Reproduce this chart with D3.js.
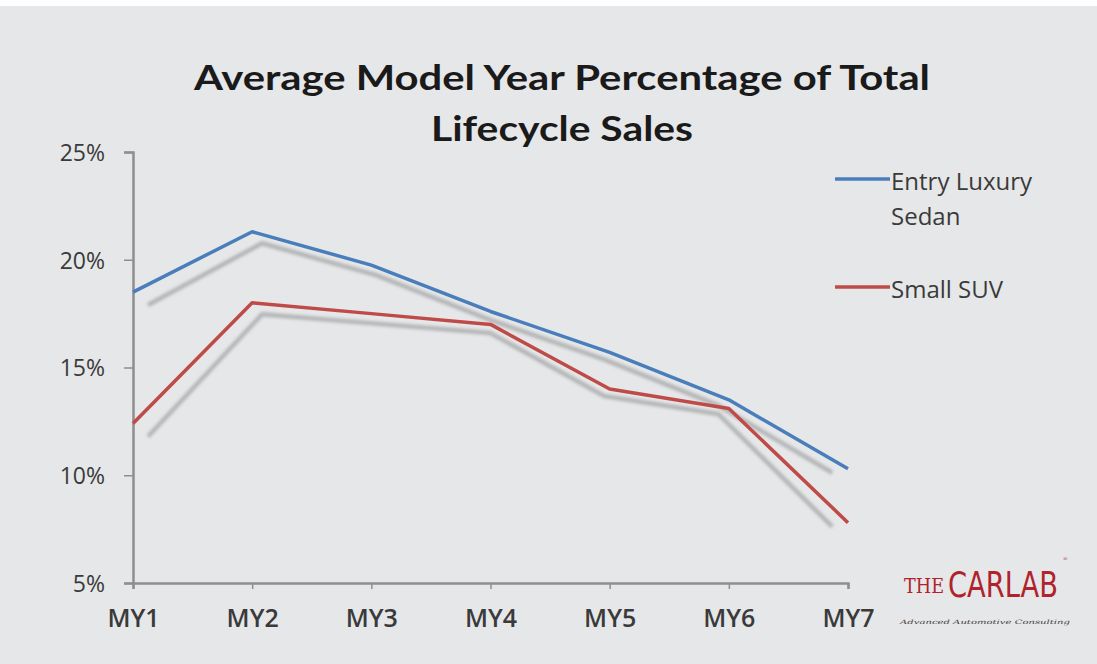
<!DOCTYPE html>
<html>
<head>
<meta charset="utf-8">
<script src="https://cdn.jsdelivr.net/npm/d3@7"></script>
<style>
  body { margin: 0; background: #e6e7e9; }
  svg { display: block; }
</style>
</head>
<body>
<div id="chart-area"></div>
<script>
// values
var categories = ['MY1', 'MY2', 'MY3', 'MY4', 'MY5', 'MY6', 'MY7'];
var entryLuxurySedan = [18.5, 21.3, 19.75, 17.6, 15.7, 13.5, 10.3];
var smallSUV = [12.4, 18.0, 17.5, 17.0, 14.0, 13.1, 7.8];
var yTicks = [5, 10, 15, 20, 25];
var seriesNames = ['Entry Luxury Sedan', 'Small SUV'];
var seriesColors = ['#4a7ebb', '#be4b48'];

var W = 1097, H = 664;
var margin = { top: 152, right: 249, bottom: 81, left: 133 },
    width = W - margin.left - margin.right,
    height = H - margin.top - margin.bottom;

var svg = d3.select('#chart-area')
    .append('svg')
        .attr('width', W)
        .attr('height', H);

svg.append('rect')
    .attr('width', W).attr('height', H)
    .attr('fill', '#e6e7e9');
svg.append('rect')
    .attr('width', W).attr('height', 6)
    .attr('fill', '#ffffff');

var defs = svg.append('defs');
defs.append('filter')
    .attr('id', 'blur')
    .attr('x', '-10%').attr('y', '-10%')
    .attr('width', '120%').attr('height', '120%')
    .append('feGaussianBlur')
        .attr('stdDeviation', 1.6);

// title
var title = svg.append('g')
    .attr('font-family', 'Lato, "Open Sans", sans-serif')
    .attr('font-weight', 'bold')
    .attr('fill', '#1a1a1a')
    .attr('text-anchor', 'middle');
title.append('text')
    .attr('x', 562).attr('y', 90)
    .attr('font-size', '35px')
    .attr('textLength', 736)
    .attr('lengthAdjust', 'spacingAndGlyphs')
    .text('Average Model Year Percentage of Total');
title.append('text')
    .attr('x', 562).attr('y', 141)
    .attr('font-size', '35px')
    .attr('textLength', 262)
    .attr('lengthAdjust', 'spacingAndGlyphs')
    .text('Lifecycle Sales');

var g = svg.append('g')
    .attr('transform', 'translate(' + margin.left + ',' + margin.top + ')');

var x = d3.scalePoint()
    .domain(categories)
    .range([0, width]);

var y = d3.scaleLinear()
    .domain([5, 25])
    .range([height, 0]);

// axes
var yAxisCall = d3.axisLeft(y)
    .tickValues(yTicks)
    .tickSize(9)
    .tickPadding(19)
    .tickFormat(d => d + '%');
var yAxis = g.append('g').call(yAxisCall);

var xAxisCall = d3.axisBottom(x)
    .tickSize(6)
    .tickPadding(12);
var xAxis = g.append('g')
    .attr('transform', 'translate(0,' + height + ')')
    .call(xAxisCall);

[xAxis, yAxis].forEach(a => {
    a.select('.domain').attr('stroke', '#8e8e8e').attr('stroke-width', 2.5);
    a.selectAll('.tick line').attr('stroke', '#8e8e8e').attr('stroke-width', 1.5);
    a.selectAll('.tick text')
        .attr('fill', '#3a3a3a')
        .attr('font-family', '"Open Sans", sans-serif')
        .attr('font-size', '23px');
});
yAxis.selectAll('.tick text').attr('dy', '0.36em');
xAxis.selectAll('.tick text')
    .attr('font-size', '25px')
    .attr('font-weight', 600)
    .attr('dy', '1.05em');

// lines
var allSeries = [entryLuxurySedan, smallSUV];
var line = d3.line()
    .x((d, i) => x(categories[i]))
    .y(d => y(d));

// perspective shadow
var shadow = g.append('g')
    .attr('transform', 'matrix(0.957,-0.0126,0,1,15,13)')
    .attr('filter', 'url(#blur)');
shadow.selectAll('path')
    .data(allSeries)
    .enter()
    .append('path')
        .attr('d', line)
        .attr('fill', 'none')
        .attr('stroke', '#a9abad')
        .attr('stroke-width', 4.5)
        .attr('stroke-linejoin', 'round')
        .attr('opacity', 0.85);

g.selectAll('.series')
    .data(allSeries)
    .enter()
    .append('path')
        .attr('class', 'series')
        .attr('d', line)
        .attr('fill', 'none')
        .attr('stroke', (d, i) => seriesColors[i])
        .attr('stroke-width', 3.5)
        .attr('stroke-linejoin', 'round');

// legend
var legend = svg.append('g')
    .attr('font-family', '"Open Sans", sans-serif')
    .attr('font-size', '24px')
    .attr('fill', '#3a3a3a');
var legendRows = [
    { y: 179, lines: ['Entry Luxury', 'Sedan'] },
    { y: 287, lines: ['Small SUV'] }
];
legendRows.forEach((r, i) => {
    legend.append('line')
        .attr('x1', 835).attr('x2', 890)
        .attr('y1', r.y).attr('y2', r.y)
        .attr('stroke', seriesColors[i])
        .attr('stroke-width', 3.5);
    r.lines.forEach((t, j) => {
        legend.append('text')
            .attr('x', 891)
            .attr('y', r.y + 11 + j * 35)
            .text(t);
    });
});

// logo
var logo = svg.append('g').attr('fill', '#b0232a');
logo.append('text')
    .attr('x', 904).attr('y', 593)
    .attr('font-family', '"DejaVu Serif", serif')
    .attr('font-size', '20px')
    .attr('textLength', 40)
    .attr('lengthAdjust', 'spacingAndGlyphs')
    .text('THE');
logo.append('text')
    .attr('x', 948).attr('y', 597)
    .attr('font-family', '"DejaVu Sans", sans-serif')
    .attr('font-size', '36px')
    .attr('textLength', 110)
    .attr('lengthAdjust', 'spacingAndGlyphs')
    .text('CARLAB');
logo.append('text')
    .attr('x', 1063).attr('y', 561)
    .attr('font-size', '6px')
    .text('®');
svg.append('text')
    .attr('x', 985).attr('y', 624)
    .attr('text-anchor', 'middle')
    .attr('font-family', '"DejaVu Serif", serif')
    .attr('font-style', 'italic')
    .attr('font-size', '6px')
    .attr('fill', '#444444')
    .attr('textLength', 170)
    .attr('lengthAdjust', 'spacingAndGlyphs')
    .text('Advanced Automotive Consulting');
</script>
</body>
</html>
